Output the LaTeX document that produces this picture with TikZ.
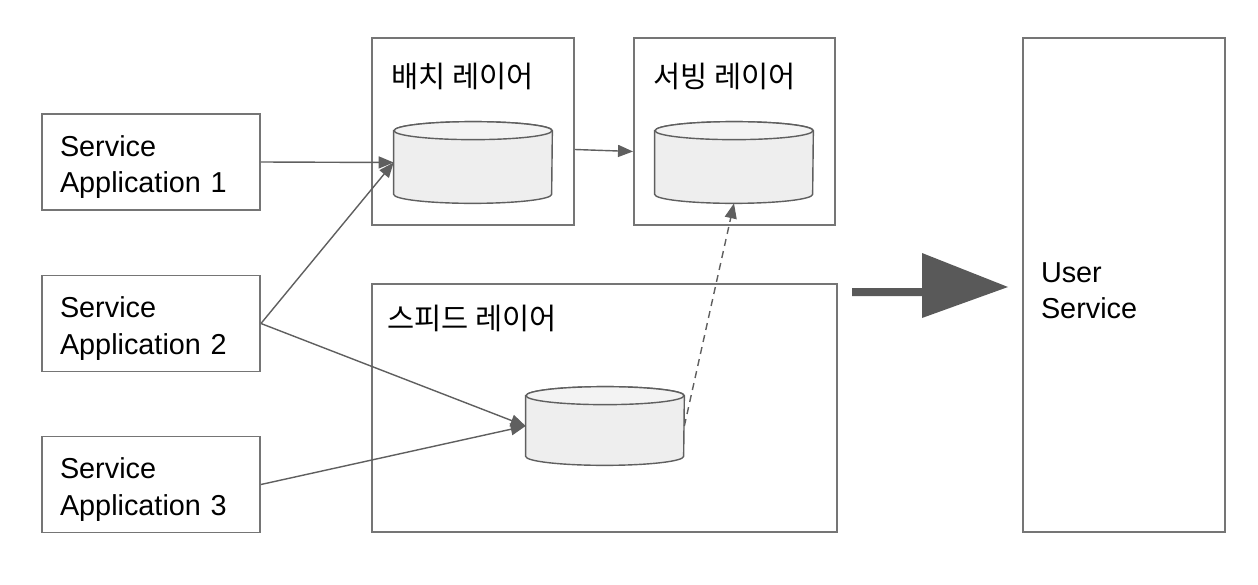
\documentclass[tikz,border=0pt]{standalone}
\usepackage{fontspec}
\setmainfont{Liberation Sans}
\newfontfamily\krfont{Noto Sans CJK KR}
\usetikzlibrary{positioning,arrows.meta}

\definecolor{boxgray}{HTML}{757575}
\definecolor{linegray}{HTML}{5F5F5F}
\definecolor{cylfill}{HTML}{EEEEEE}
\definecolor{cyltop}{HTML}{F3F3F3}
\definecolor{bigfill}{HTML}{595959}

\tikzset{
  app/.style={draw=boxgray, line width=1.1pt, minimum width=4.36cm, minimum height=1.92cm,
    text width=3.64cm, align=left, inner sep=0pt, font=\fontsize{16.4}{20.5}\selectfont,
    execute at begin node={\rule{0pt}{0.62cm}}},
  layer/.style={draw=boxgray, line width=1.1pt, inner sep=0pt},
  title/.style={inner sep=0pt, anchor=west, font=\krfont\fontsize{16.8}{20}\selectfont},
  store/.style={rectangle, minimum width=3.16cm, minimum height=1.62cm, inner sep=0pt},
  storeline/.style={draw=linegray, line width=0.8pt},
  flow/.style={draw=linegray, line width=0.8pt, -{Triangle[length=0.3cm,width=0.24cm]}}
}

% cylinder drawn over a named store node
\newcommand\drawstore[1]{%
  \filldraw[storeline, fill=cylfill]
    ([yshift=-0.18cm]#1.north west) -- ([yshift=0.18cm]#1.south west)
    arc[start angle=180, end angle=360, x radius=1.58cm, y radius=0.18cm]
    -- ([yshift=-0.18cm]#1.north east)
    arc[start angle=0, end angle=180, x radius=1.58cm, y radius=0.18cm] -- cycle;
  \filldraw[storeline, fill=cyltop] ([yshift=-0.18cm]#1.north)
    ellipse[x radius=1.58cm, y radius=0.18cm];
}

\begin{document}
\begin{tikzpicture}
   \useasboundingbox (0,0) rectangle (25.16,11.68);

   % sources
   \node[app] (app1) at (3.02,8.44) {Service\\Application 1};
   \node[app] (app2) at (3.02,5.21) {Service\\Application 2};
   \node[app] (app3) at (3.02,1.99) {Service\\Application 3};

   % layers
   \node[layer, minimum width=4.04cm, minimum height=3.74cm] (batch) at (9.46,9.05) {};
   \node[layer, minimum width=4.02cm, minimum height=3.74cm] (serving) at (14.69,9.05) {};
   \node[layer, minimum width=9.3cm, minimum height=4.96cm] (speed) at (12.09,3.52) {};
   \node[title] (batchtitle) at ([xshift=0.4cm,yshift=-0.78cm]batch.north west) {배치 레이어};
   \node[title] (servingtitle) at ([xshift=0.4cm,yshift=-0.78cm]serving.north west) {서빙 레이어};
   \node[title] (speedtitle) at ([xshift=0.32cm,yshift=-0.7cm]speed.north west) {스피드 레이어};

   \node[store] (batchdb) at (9.46,8.43) {};
   \node[store] (servingdb) at (14.68,8.43) {};
   \node[store, minimum height=1.56cm] (speeddb) at (12.10,3.16) {};
   \drawstore{batchdb}
   \drawstore{servingdb}
   \drawstore{speeddb}

   % consumer
   \node[app, minimum width=4.04cm, minimum height=9.88cm, text width=3.32cm] (user) at (22.48,5.98) {User\\Service};

   \path
    (app1.east) edge[flow] (batchdb.west)
    (app2.east) edge[flow] (batchdb.west)
    (app2.east) edge[flow] (speeddb.west)
    (app3.east) edge[flow] (speeddb.west)
    ([yshift=-0.36cm]batch.east) edge[flow] ([yshift=-0.4cm]serving.west);
   \draw[flow, dash pattern=on 4pt off 3pt] (speeddb.east) -- (servingdb.south);

   \fill[bigfill] (17.04,5.92) -- (18.44,5.92) -- (18.44,6.62) -- (20.16,5.94)
     -- (18.44,5.32) -- (18.44,5.76) -- (17.04,5.76) -- cycle;
\end{tikzpicture}
\end{document}
